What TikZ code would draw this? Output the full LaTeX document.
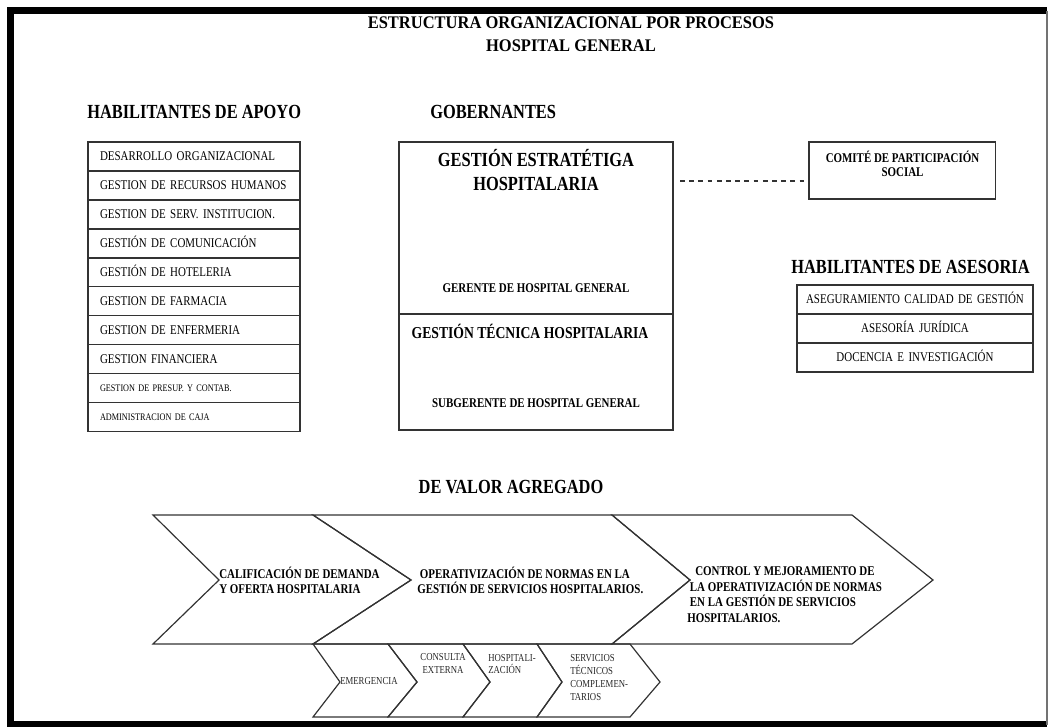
\documentclass[tikz,border=0pt]{standalone}
\usepackage{fontspec}
\setmainfont{Liberation Serif}
\newfontfamily\angosta[FakeStretch=0.82]{Liberation Serif}
\newfontfamily\titular[FakeStretch=0.93]{Liberation Serif}
\usetikzlibrary{positioning}

\tikzset{
	borde/.style={draw=black!80,line width=0.9pt,outer sep=0pt},
	titulo/.style={font=\titular\bfseries\fontsize{13.3}{17.6}\selectfont,inner sep=0pt,align=center},
	seccion/.style={font=\angosta\bfseries\fontsize{15}{18}\selectfont,inner sep=0pt,align=center},
	rotulo/.style={font=\angosta\bfseries\fontsize{10}{11.3}\selectfont,inner sep=0pt,align=left},
	apoyo/.style={borde,minimum width=159pt,minimum height=21.73pt,text width=141pt,inner xsep=9pt,inner ysep=0pt,text height=6.6pt,text depth=0pt,align=left,font=\angosta\fontsize{10}{11}\selectfont},
	chico/.style={font=\angosta\fontsize{7.5}{9}\selectfont,text height=5pt},
	asesoria/.style={borde,minimum width=177pt,minimum height=21.75pt,text width=171pt,inner xsep=3pt,inner ysep=0pt,text height=6.6pt,text depth=0pt,align=center,font=\angosta\fontsize{10}{11}\selectfont},
	proceso/.style={draw=black!80,line width=0.9pt},
	servicio/.style={font=\angosta\fontsize{8}{9.7}\selectfont,inner sep=0pt,align=left,text=black!85},
}

\begin{document}
\begin{tikzpicture}[x=0.75pt,y=-0.75pt]
	\useasboundingbox (0,0) rectangle (1054,726);
	% marco
	\draw[line width=5pt] (1047,10.5) -- (10.5,10.5) -- (10.5,724.5) -- (1047,724.5);
	\draw[black!55,line width=0.8pt] (1047,10.5) -- (1047,724.5);

	\node[titulo] (titulo) at (571,34.3) {ESTRUCTURA ORGANIZACIONAL POR PROCESOS\\HOSPITAL GENERAL};
	\node[seccion,anchor=west] (hapoyo) at (87,112) {HABILITANTES DE APOYO};
	\node[seccion,anchor=west] (gobernantes) at (430,112) {GOBERNANTES};

	% habilitantes de apoyo
	\node[apoyo,anchor=north west] (a1) at (88,142) {DESARROLLO ORGANIZACIONAL};
	\node[apoyo,below=0pt of a1] (a2) {GESTION DE RECURSOS HUMANOS};
	\node[apoyo,below=0pt of a2] (a3) {GESTION DE SERV. INSTITUCION.};
	\node[apoyo,below=0pt of a3] (a4) {GESTIÓN DE COMUNICACIÓN};
	\node[apoyo,below=0pt of a4] (a5) {GESTIÓN DE HOTELERIA};
	\node[apoyo,below=0pt of a5] (a6) {GESTION DE FARMACIA};
	\node[apoyo,below=0pt of a6] (a7) {GESTION DE ENFERMERIA};
	\node[apoyo,below=0pt of a7] (a8) {GESTION FINANCIERA};
	\node[apoyo,chico,below=0pt of a8] (a9) {GESTION DE PRESUP. Y CONTAB.};
	\node[apoyo,chico,below=0pt of a9] (a10) {ADMINISTRACION DE CAJA};

	% gobernantes
	\node[borde,minimum width=205.5pt,minimum height=129pt,anchor=north west] (gobierno) at (399,142) {};
	\node[borde,minimum width=205.5pt,minimum height=87pt,below=0pt of gobierno] (tecnica) {};
	\node[seccion] (gestionE) at (536,170) {GESTIÓN ESTRATÉTIGA\\HOSPITALARIA};
	\node[rotulo] (gerente) at (536,288) {GERENTE DE HOSPITAL GENERAL};
	\node[seccion,font=\angosta\bfseries\fontsize{12.5}{15}\selectfont] (gestionT) at (530,331.5) {GESTIÓN TÉCNICA HOSPITALARIA};
	\node[rotulo] (subgerente) at (536,403) {SUBGERENTE DE HOSPITAL GENERAL};

	\node[borde,minimum width=140pt,minimum height=42.75pt,anchor=north west] (comite) at (809,142) {};
	\node[rotulo,align=center,font=\angosta\bfseries\fontsize{10}{10.5}\selectfont] (comiteT) at (902.5,163.5) {COMITÉ DE PARTICIPACIÓN\\SOCIAL};
	\coordinate (guion) at (680,181);
	\draw[black!80,line width=1pt,dash pattern=on 3.6pt off 3.3pt] (guion) -- (guion -| comite.west);

	% habilitantes de asesoria
	\node[seccion] (hasesoria) at (910.5,267) {HABILITANTES DE ASESORIA};
	\node[asesoria,anchor=north west] (s1) at (797,285) {ASEGURAMIENTO CALIDAD DE GESTIÓN};
	\node[asesoria,below=0pt of s1] (s2) {ASESORÍA JURÍDICA};
	\node[asesoria,below=0pt of s2] (s3) {DOCENCIA E INVESTIGACIÓN};

	% de valor agregado
	\node[seccion] (valor) at (511,487.5) {DE VALOR AGREGADO};

	\coordinate (t0) at (153,515); \coordinate (t1) at (313,515);
	\coordinate (t2) at (612,515); \coordinate (t3) at (852,515);
	\coordinate (m0) at (219,580); \coordinate (m1) at (411,580);
	\coordinate (m2) at (690,580); \coordinate (m3) at (933,580);
	\coordinate (b0) at (153,644); \coordinate (b1) at (313,644);
	\coordinate (b2) at (612,644); \coordinate (b3) at (852,644);

	\draw[proceso] (t0)--(t1)--(m1)--(b1)--(b0)--(m0)--cycle;
	\draw[proceso] (t1)--(t2)--(m2)--(b2)--(b1)--(m1)--cycle;
	\draw[proceso] (t2)--(t3)--(m3)--(b3)--(b2)--(m2)--cycle;

	\coordinate (u1) at (388,644); \coordinate (u2) at (463,644);
	\coordinate (u3) at (537,644); \coordinate (u4) at (630,644);
	\coordinate (n0) at (340,682); \coordinate (n1) at (417,682);
	\coordinate (n2) at (490,682); \coordinate (n3) at (562,682);
	\coordinate (n4) at (660,682);
	\coordinate (w0) at (313,717); \coordinate (w1) at (388,717);
	\coordinate (w2) at (463,717); \coordinate (w3) at (537,717);
	\coordinate (w4) at (630,717);

	\draw[proceso] (b1)--(u1)--(n1)--(w1)--(w0)--(n0)--cycle;
	\draw[proceso] (u1)--(u2)--(n2)--(w2)--(w1)--(n1)--cycle;
	\draw[proceso] (u2)--(u3)--(n3)--(w3)--(w2)--(n2)--cycle;
	\draw[proceso] (u3)--(u4)--(n4)--(w4)--(w3)--(n3)--cycle;

	\node[rotulo,anchor=west] (califica) at (219,580) {CALIFICACIÓN DE DEMANDA\\Y OFERTA HOSPITALARIA};
	\node[rotulo,anchor=west] (operativa) at (417,580.5) {\hspace*{2pt}OPERATIVIZACIÓN DE NORMAS EN LA\\GESTIÓN DE SERVICIOS HOSPITALARIOS.};
	\node[rotulo,anchor=west,font=\angosta\bfseries\fontsize{10}{11.7}\selectfont] (control) at (687,594.5) {\hspace*{6pt}CONTROL Y MEJORAMIENTO DE\\\hspace*{2pt}LA OPERATIVIZACIÓN DE NORMAS\\\hspace*{2pt}EN LA GESTIÓN DE SERVICIOS\\HOSPITALARIOS.};

	\node[servicio,anchor=west] (emergencia) at (340,681) {EMERGENCIA};
	\node[servicio,align=center] (consulta) at (443,663.5) {CONSULTA\\EXTERNA};
	\node[servicio,anchor=west] (hospitaliza) at (488,664) {HOSPITALI-\\ZACIÓN};
	\node[servicio,anchor=west] (servtec) at (570,677.5) {SERVICIOS\\TÉCNICOS\\COMPLEMEN-\\TARIOS};
\end{tikzpicture}
\end{document}
